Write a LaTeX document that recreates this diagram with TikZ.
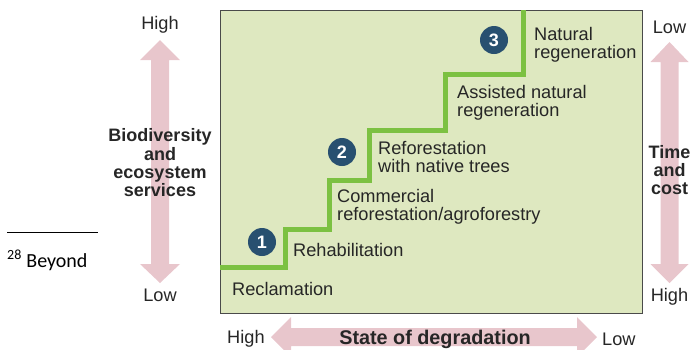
\documentclass[tikz,border=0pt]{standalone}
\usepackage{fontspec}
\setmainfont{Liberation Sans}
\newfontfamily\notefont{Carlito}
\definecolor{panel}{HTML}{DEE8C0}
\definecolor{frame}{HTML}{4A4A4A}
\definecolor{stair}{HTML}{7CC142}
\definecolor{band}{HTML}{E8C6CC}
\definecolor{badge}{HTML}{285070}
\definecolor{ink}{HTML}{262626}
\begin{document}
\begin{tikzpicture}[x=1pt,y=-1pt,
  lbl/.style={font=\fontsize{18.2}{18}\selectfont, text=ink, inner sep=0pt},
  steplbl/.style={lbl, anchor=west, align=left},
  axislbl/.style={font=\bfseries\fontsize{18}{18.3}\selectfont, text=ink, inner sep=0pt, align=center},
  numbadge/.style={circle, fill=badge, minimum size=28pt, inner sep=0pt,
    text=white, font=\bfseries\fontsize{18}{18}\selectfont}]
\useasboundingbox (0,0) rectangle (694,349);

% footnote fragment on the left
\coordinate (fnA) at (7,232.5);
\coordinate (fnB) at (98,232.5);
\draw[line width=1.3pt] (fnA) -- (fnB);
\begin{scope}
\clip (0,240) rectangle (98,280);
\node[anchor=base west, inner sep=0pt, font=\notefont\fontsize{20}{20}\selectfont] (fn) at (7,267) {\textsuperscript{28} Beyond};
\end{scope}

% big double arrows
\fill[band] (160,40) -- (180,60) -- (169,60) -- (169,264) -- (180,264) -- (160,283)
  -- (140,264) -- (151,264) -- (151,60) -- (140,60) -- cycle;
\fill[band] (669.5,42) -- (688.5,62) -- (678.5,62) -- (678.5,264) -- (688.5,264) -- (669.5,283)
  -- (650.5,264) -- (660.5,264) -- (660.5,62) -- (650.5,62) -- cycle;
\fill[band] (271,337) -- (291,317) -- (291,328) -- (577,328) -- (577,317) -- (597,337)
  -- (577,357) -- (577,346) -- (291,346) -- (291,357) -- cycle;

% panel
\node[draw=frame, line width=1pt, fill=panel, minimum width=422pt, minimum height=303pt,
  inner sep=0pt, anchor=north west] (panel) at (220,10) {};

% staircase
\coordinate (s0) at (220,267.5);
\coordinate (s1) at (285.5,267.5);
\coordinate (s2) at (285.5,229.5);
\coordinate (s3) at (329.5,229.5);
\coordinate (s4) at (329.5,180.5);
\coordinate (s5) at (369,180.5);
\coordinate (s6) at (369,130);
\coordinate (s7) at (445,130);
\coordinate (s8) at (445,74);
\coordinate (s9) at (523,74);
\coordinate (s10) at (523,10);
\draw[stair, line width=5pt] (s0) -- (s1) -- (s2) -- (s3) -- (s4) -- (s5) -- (s6)
  -- (s7) -- (s8) -- (s9) -- (s10);

% step labels
\node[steplbl] (recl) at (232,288.5) {Reclamation};
\node[steplbl] (rehab) at (293,249.5) {Rehabilitation};
\node[steplbl] (comm) at (337,207) {Commercial\\reforestation/agroforestry};
\node[steplbl] (refor) at (378,156.5) {Reforestation\\with native trees};
\node[steplbl] (anr) at (457,102.5) {Assisted natural\\regeneration};
\node[steplbl] (natr) at (534,44.5) {Natural\\regeneration};

% numbered badges
\node[numbadge] (b1) at (262,242) {1};
\node[numbadge] (b2) at (342,152) {2};
\node[numbadge] (b3) at (494,40) {3};

% left axis
\node[lbl] (lhigh) at (160,25) {High};
\node[lbl] (llow) at (160,295) {Low};
\node[axislbl] (bio) at (160,163) {Biodiversity\\and\\ecosystem\\services};

% right axis
\node[lbl] (rlow) at (669.5,27) {Low};
\node[lbl] (rhigh) at (669.5,297) {High};
\node[axislbl] (time) at (669.5,170) {Time\\and\\cost};

% bottom axis
\node[lbl, anchor=west] (bhigh) at (227,339) {High};
\node[axislbl, font=\bfseries\fontsize{19.8}{20}\selectfont] (deg) at (435,339) {State of degradation};
\node[lbl, anchor=west] (blow) at (602,339) {Low};
\end{tikzpicture}
\end{document}
